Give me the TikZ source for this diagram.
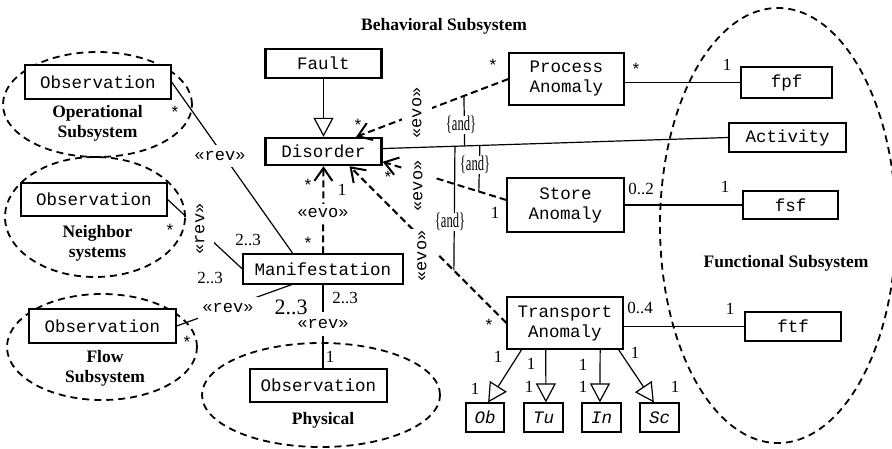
\documentclass[tikz,border=0pt]{standalone}
\usepackage{fontspec}
\usepackage{graphicx}
\setmainfont{Liberation Serif}
\newfontfamily\monofam{Liberation Mono}
\usetikzlibrary{arrows.meta,calc}

\tikzset{
  cls/.style={draw, line width=1.2pt, fill=white, font=\monofam\fontsize{17.5}{20}\selectfont, inner sep=0pt, align=center},
  clsbold/.style={cls, line width=2.4pt},
  grp/.style={line width=1.8pt, dash pattern=on 7pt off 5pt},
  assoc/.style={line width=1.2pt},
  evo/.style={line width=2pt, dash pattern=on 7pt off 4pt, -{Straight Barb[length=13pt,width=18pt,line width=2pt]}},
  gen/.style={line width=1.2pt, -{Triangle[length=19pt,width=20pt,fill=white,line width=1.2pt]}},
  mult/.style={font=\fontsize{17}{20}\selectfont, inner sep=0pt},
  star/.style={font=\monofam\fontsize{17}{20}\selectfont, inner sep=0pt},
  stereo/.style={font=\monofam\fontsize{17}{20}\selectfont, fill=white, inner xsep=1pt, inner ysep=5pt},
  stereov/.style={stereo, rotate=90, inner ysep=10pt},
  title/.style={font=\bfseries\fontsize{17.5}{20}\selectfont, align=center, inner sep=0pt},
  andc/.style={font=\fontsize{21}{24}\selectfont, fill=white, inner sep=0pt},
}
\newcommand{\andtxt}{\scalebox{0.6}[1]{\{and\}}}

\begin{document}
\begin{tikzpicture}[x=1pt,y=-1pt]
\useasboundingbox (0,0) rectangle (892,449);

% subsystem groupings
\draw[grp] (97.5,104.5) ellipse [x radius=94.5pt, y radius=52.5pt];
\draw[grp] (95,217) ellipse [x radius=90pt, y radius=60pt];
\draw[grp] (102,347) ellipse [x radius=95pt, y radius=53pt];
\draw[grp] (321,395) ellipse [x radius=119pt, y radius=52pt];
\draw[grp] (778,225.5) ellipse [x radius=118pt, y radius=217.5pt];

% subsystem titles
\node[title] (tBeh) at (444,26) {Behavioral Subsystem};
\node[title] (tFun) at (786,263) {Functional Subsystem};
\node[title] (tOp) at (97.5,123) {Operational\\Subsystem};
\node[title] (tNb) at (97.5,243) {Neighbor\\systems};
\node[title] (tFl) at (105,368.5) {Flow\\Subsystem};
\node[title] (tPh) at (323,420) {Physical};

% classes
\node[cls, minimum width=146pt, minimum height=34pt] (obsOp) at (98,82) {Observation};
\node[cls, minimum width=146pt, minimum height=33pt] (obsNb) at (94,199.5) {Observation};
\node[cls, minimum width=147pt, minimum height=34pt] (obsFl) at (102.5,326) {Observation};
\node[cls, minimum width=137pt, minimum height=33pt] (obsPh) at (318.5,385.5) {Observation};
\node[clsbold, minimum width=116pt, minimum height=29pt] (fault) at (323.5,63.5) {Fault};
\node[clsbold, minimum width=116pt, minimum height=27pt] (disorder) at (323.5,151.5) {Disorder};
\node[cls, minimum width=160pt, minimum height=30pt] (manif) at (323,269) {Manifestation};
\node[cls, minimum width=115pt, minimum height=52pt] (procA) at (566.5,79) {Process\\Anomaly};
\node[cls, minimum width=117pt, minimum height=54pt] (storeA) at (565.5,205) {Store\\Anomaly};
\node[cls, minimum width=116pt, minimum height=52pt] (transA) at (565,323) {Transport\\Anomaly};
\node[cls, minimum width=91pt, minimum height=31pt] (fpf) at (786.5,82.5) {fpf};
\node[cls, minimum width=117pt, minimum height=29pt] (activity) at (787.5,137.5) {Activity};
\node[cls, minimum width=95pt, minimum height=28pt] (fsf) at (790.5,205) {fsf};
\node[cls, minimum width=96pt, minimum height=29pt] (ftf) at (793,326.5) {ftf};
\node[cls, minimum width=38pt, minimum height=29pt] (ob) at (485,417.5) {\itshape Ob};
\node[cls, minimum width=39pt, minimum height=29pt] (tu) at (543.5,417.5) {\itshape Tu};
\node[cls, minimum width=39pt, minimum height=29pt] (in) at (601.5,417.5) {\itshape In};
\node[cls, minimum width=39pt, minimum height=29pt] (sc) at (659.5,417.5) {\itshape Sc};

% generalization
\draw[gen] (fault.south) -- (disorder.north);
\draw[gen] ($(transA.south west)!0.13!(transA.south east)$) -- ($(ob.north west)!0.58!(ob.north east)$);
\draw[gen] ($(transA.south west)!0.336!(transA.south east)$) -- ($(tu.north west)!0.56!(tu.north east)$);
\draw[gen] ($(transA.south west)!0.80!(transA.south east)$) -- ($(in.north west)!0.46!(in.north east)$);
\draw[gen] ($(transA.south west)!0.957!(transA.south east)$) -- ($(sc.north west)!0.36!(sc.north east)$);

% observation links
\draw[assoc] (obsOp.east) -- ($(manif.north west)!0.3125!(manif.north east)$);
\draw[assoc] (obsNb.east) -- (manif.west);
\draw[assoc] (obsFl.east) -- ($(manif.south west)!0.306!(manif.south east)$);
\draw[assoc] (manif.south) -- (manif.south |- obsPh.north);

% functional links
\draw[assoc] ($(disorder.north east)!0.4!(disorder.south east)$)
  -- coordinate[pos=0.209] (andA3) coordinate[pos=0.237] (andA1) coordinate[pos=0.281] (andA2) (activity.west);
\draw[assoc] (fpf.west -| procA.east) -- (fpf.west);
\draw[assoc] (storeA.east) -- (fsf.west);
\draw[assoc] (ftf.west -| transA.east) -- (ftf.west);

% evolution links
\draw[evo] (manif.north) -- (disorder.south);
\draw[evo] (procA.west) -- coordinate[pos=0.292] (andP) ($(disorder.north west)!0.776!(disorder.north east)$);
\draw[evo] ($(storeA.north west)!0.41!(storeA.south west)$) -- coordinate[pos=0.223] (andS) ($(disorder.north east)!0.85!(disorder.south east)$);
\draw[evo] (transA.west) -- coordinate[pos=0.335] (andT) ($(disorder.south west)!0.72!(disorder.south east)$);

% {and} constraints
\draw[assoc] (andP) -- (andA1);
\draw[assoc] (andA2) -- (andS);
\draw[assoc] (andA3) -- (andT);
\node[andc] (and1) at (461,125) {\andtxt};
\node[andc] (and2) at (475,165) {\andtxt};
\node[andc] (and3) at (450,222) {\andtxt};

% stereotypes
\node[stereo, inner ysep=6pt] (revOp) at (220,156) {«rev»};
\node[stereov, inner ysep=9pt] (revNb) at (200,229) {«rev»};
\node[stereo, inner xsep=4pt, inner ysep=6pt] (revFl) at (228,308) {«rev»};
\node[stereo, inner ysep=7pt] (revPh) at (323,324) {«rev»};
\node[stereo, inner ysep=4pt] (evoM) at (323,213) {«evo»};
\node[stereov] (evoP) at (417,113) {«evo»};
\node[stereov] (evoS) at (418,186) {«evo»};
\node[stereov] (evoT) at (422,256) {«evo»};

% multiplicities
\node[star] (m1) at (175,112) {*};
\node[star] (m2) at (170,230) {*};
\node[star] (m3) at (187,342) {*};
\node[star] (m4) at (308,243) {*};
\node[star] (m5) at (308,185) {*};
\node[star] (m6) at (493,65) {*};
\node[star] (m7) at (358,125) {*};
\node[star] (m8) at (636,69) {*};
\node[star] (m9) at (388,177) {*};
\node[star] (m10) at (489,325) {*};

\node[mult] (n1) at (342,190) {1};
\node[mult] (n2) at (495,213) {1};
\node[mult] (n3) at (727,65) {1};
\node[mult] (n4) at (725,187) {1};
\node[mult] (n5) at (730,309) {1};
\node[mult] (n6) at (330,357) {1};
\node[mult] (n7) at (498,357) {1};
\node[mult] (n8) at (475,389) {1};
\node[mult] (n9) at (531,364) {1};
\node[mult] (n10) at (529,387) {1};
\node[mult] (n11) at (583,365) {1};
\node[mult] (n12) at (583,387) {1};
\node[mult] (n13) at (635,353) {1};
\node[mult] (n14) at (675,387) {1};

\node[mult] (d1) at (248,240) {2..3};
\node[mult] (d2) at (210,278) {2..3};
\node[mult] (d3) at (345,298) {2..3};
\node[mult, font=\fontsize{22}{24}\selectfont] (d4) at (291,307) {2..3};
\node[mult] (z1) at (641,189) {0..2};
\node[mult] (z2) at (640,308) {0..4};
\end{tikzpicture}
\end{document}
